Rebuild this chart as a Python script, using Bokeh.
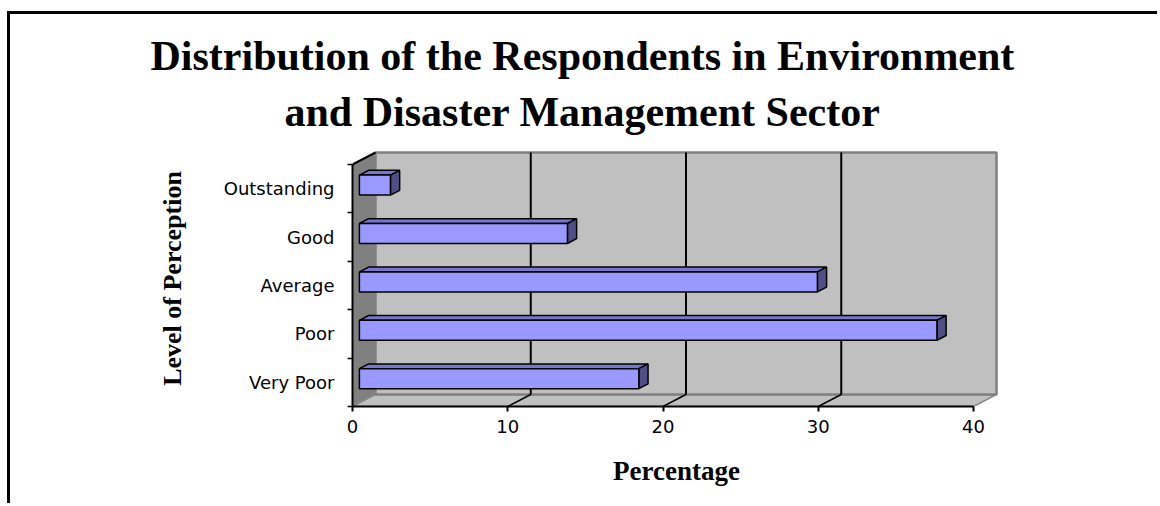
from bokeh.plotting import figure
from bokeh.models import Range1d, LinearAxis, FixedTicker, Title
from bokeh.embed import file_html
from bokeh.resources import INLINE

# ---- data ----
categories = ["Very Poor", "Poor", "Average", "Good", "Outstanding"]
percentages = [18.0, 37.2, 29.5, 13.4, 2.0]
x_ticks = [0, 10, 20, 30, 40]
title_line1 = "Distribution of the Respondents in Environment"
title_line2 = "and Disaster Management Sector"
x_label = "Percentage"
y_label = "Level of Perception"

# ---- geometry (in data units) ----
XMAX = 40
NCAT = len(categories)
PX_X = 621 / 40.0     # pixels per percent
PX_Y = 242 / 5.0      # pixels per category
DX = 23 / PX_X        # depth vector
DY = 12 / PX_Y
T0, T1 = 0.30, 0.70   # bar depth placement
BAR_H = 20 / PX_Y

# canvas starts at page (10, 14) because of the CSS frame line
W, H = 1150, 492
p = figure(width=W, height=H,
           x_range=Range1d(0, 648 / PX_X), y_range=Range1d(0, 256 / PX_Y),
           output_backend="svg", toolbar_location=None,
           x_axis_type=None, y_axis_type=None,
           min_border_left=342, min_border_right=160,
           min_border_top=136, min_border_bottom=100)
p.title = None
p.outline_line_color = None
p.background_fill_color = "white"
p.border_fill_color = "white"
p.styles = {"margin-left": "7px", "margin-top": "11px",
            "border-left": "3px solid black", "border-top": "3px solid black",
            "width": "%dpx" % W}

# walls / floor
p.patch([0, DX, DX, 0], [0, DY, NCAT + DY, NCAT], fill_color="#808080", line_color=None)
p.patch([0, XMAX, XMAX + DX, DX], [0, 0, DY, DY], fill_color="#c0c0c0",
        line_color="#8a8a8a", line_width=1.5)
p.quad(left=DX, right=XMAX + DX, bottom=DY, top=NCAT + DY, fill_color="#c0c0c0",
       line_color="#808080", line_width=2.5)

# gridlines on back wall + floor diagonals
inner = [t for t in x_ticks if 0 < t < XMAX]
p.segment(x0=[t + DX for t in inner], y0=[DY] * len(inner),
          x1=[t + DX for t in inner], y1=[NCAT + DY] * len(inner),
          line_color="black", line_width=2)
p.segment(x0=inner, y0=[0] * len(inner), x1=[t + DX for t in inner], y1=[DY] * len(inner),
          line_color="black", line_width=1.5)
p.segment(x0=[0], y0=[NCAT], x1=[DX], y1=[NCAT + DY], line_color="black", line_width=2)

# 3D bars
ox0, oy0 = T0 * DX, T0 * DY
ox1, oy1 = T1 * DX, T1 * DY
front_xs, front_ys, top_xs, top_ys, side_xs, side_ys = [], [], [], [], [], []
for i, v in enumerate(percentages):
    c = i + 0.5
    b = c - BAR_H / 2
    t = c + BAR_H / 2
    front_xs.append([ox0, v + ox0, v + ox0, ox0])
    front_ys.append([b + oy0, b + oy0, t + oy0, t + oy0])
    top_xs.append([ox0, v + ox0, v + ox1, ox1])
    top_ys.append([t + oy0, t + oy0, t + oy1, t + oy1])
    side_xs.append([v + ox0, v + ox1, v + ox1, v + ox0])
    side_ys.append([b + oy0, b + oy1, t + oy1, t + oy0])
p.patches(top_xs, top_ys, fill_color="#7777cc", line_color="black", line_width=1.5)
p.patches(side_xs, side_ys, fill_color="#4f4f85", line_color="black", line_width=1.5)
p.patches(front_xs, front_ys, fill_color="#9999ff", line_color="black", line_width=1.5)

# axes
xaxis = LinearAxis(ticker=FixedTicker(ticks=x_ticks, minor_ticks=[]), bounds=(0, XMAX),
                   axis_label=x_label)
xaxis.axis_line_width = 2
xaxis.major_tick_line_width = 2
xaxis.major_tick_out = 5
xaxis.major_tick_in = 0
xaxis.major_label_standoff = 8
xaxis.major_label_text_font = "DejaVu Sans"
xaxis.major_label_text_font_size = "18px"
xaxis.major_label_text_color = "black"
xaxis.axis_label_text_font = "Liberation Serif"
xaxis.axis_label_text_font_style = "bold"
xaxis.axis_label_text_font_size = "27px"
xaxis.axis_label_text_color = "black"
xaxis.axis_label_standoff = 20
p.add_layout(xaxis, "below")

centers = [i + 0.5 for i in range(NCAT)]
yaxis = LinearAxis(ticker=FixedTicker(ticks=centers, minor_ticks=list(range(NCAT + 1))),
                   bounds=(0, NCAT), axis_label=y_label,
                   major_label_overrides={c: name for c, name in zip(centers, categories)})
yaxis.axis_line_width = 2
yaxis.major_tick_out = 0
yaxis.major_tick_in = 0
yaxis.minor_tick_out = 5
yaxis.minor_tick_in = 0
yaxis.minor_tick_line_width = 1.5
yaxis.major_label_standoff = 13
yaxis.major_label_text_font = "DejaVu Sans"
yaxis.major_label_text_font_size = "18px"
yaxis.major_label_text_color = "black"
yaxis.axis_label_text_font = "Liberation Serif"
yaxis.axis_label_text_font_style = "bold"
yaxis.axis_label_text_font_size = "26px"
yaxis.axis_label_text_color = "black"
yaxis.axis_label_standoff = 34
p.add_layout(yaxis, "left")

# titles (lower line first, it sits nearest the plot)
p.add_layout(Title(text=title_line2, align="left", offset=-68, standoff=32,
                   text_font="Liberation Serif", text_font_style="bold",
                   text_font_size="42px", text_color="black"), "above")
p.add_layout(Title(text=title_line1, align="left", offset=-202, standoff=-17,
                   text_font="Liberation Serif", text_font_style="bold",
                   text_font_size="42px", text_color="black"), "above")

open("out.html", "w").write(file_html(p, INLINE))
